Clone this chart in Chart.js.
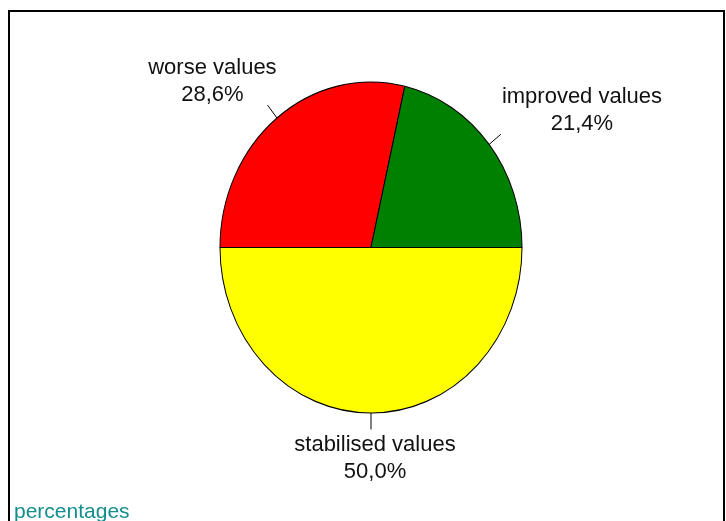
<!DOCTYPE html>
<html>
<head>
<meta charset="utf-8">
<script src="https://cdn.jsdelivr.net/npm/chart.js@4"></script>
<style>
  html, body { margin: 0; padding: 0; background: #fff; }
  #chart { display: block; }
</style>
</head>
<body>
<canvas id="chart" width="726" height="521"></canvas>
<script>
// data, in drawing order clockwise from 3 o'clock
const categories = ["stabilised values", "worse values", "improved values"];
const percentValues = [50.0, 28.6, 21.4];
const percentLabels = ["50,0%", "28,6%", "21,4%"];
const sliceColors = ["#ffff00", "#ff0000", "#008000"];

const FONT = "22px 'Liberation Sans', Arial, sans-serif";
const Y_STRETCH = 165.5 / 151; // reference pie is slightly taller than wide

// frame round the plot + footer text
const framePlugin = {
    id: "frame",
    beforeDraw(chart) {
        const ctx = chart.ctx;
        ctx.save();
        ctx.fillStyle = "#fff";
        ctx.fillRect(0, 0, chart.width, chart.height);
        ctx.strokeStyle = "#000";
        ctx.lineWidth = 2;
        ctx.beginPath();
        ctx.moveTo(9, chart.height + 5);
        ctx.lineTo(9, 11);
        ctx.lineTo(724, 11);
        ctx.lineTo(724, chart.height + 5);
        ctx.stroke();
        ctx.fillStyle = "#138d8d";
        ctx.font = "21px 'Liberation Sans', Arial, sans-serif";
        ctx.textAlign = "left";
        ctx.textBaseline = "alphabetic";
        ctx.fillText("percentages", 14, 518);
        ctx.restore();
    }
};

// stretch the pie vertically around its centre
const stretchPlugin = {
    id: "stretch",
    beforeDatasetsDraw(chart) {
        const arc = chart.getDatasetMeta(0).data[0];
        const ctx = chart.ctx;
        ctx.save();
        ctx.translate(arc.x, arc.y);
        ctx.scale(1, Y_STRETCH);
        ctx.translate(-arc.x, -arc.y);
    },
    afterDatasetsDraw(chart) {
        chart.ctx.restore();
    }
};

// leader ticks and two-line labels
const labelPlugin = {
    id: "sliceLabels",
    afterDraw(chart) {
        const ctx = chart.ctx;
        const meta = chart.getDatasetMeta(0);
        ctx.save();
        ctx.font = FONT;
        ctx.fillStyle = "#111";
        ctx.strokeStyle = "#000";
        ctx.lineWidth = 1;
        meta.data.forEach((arc, i) => {
            const mid = (arc.startAngle + arc.endAngle) / 2;
            const r = arc.outerRadius;
            const c = Math.cos(mid), s = Math.sin(mid);
            const x0 = arc.x + r * c, y0 = arc.y + r * s * Y_STRETCH;
            const x1 = arc.x + (r + 15) * c, y1 = arc.y + ((r + 15) * Y_STRETCH) * s;
            ctx.beginPath();
            ctx.moveTo(x0, y0);
            ctx.lineTo(x1, y1);
            ctx.stroke();

            const lines = [categories[i], percentLabels[i]];
            const w = Math.max(...lines.map(t => ctx.measureText(t).width));
            let cx;
            if (c > 0.2) cx = x1 + w / 2 + 1;
            else if (c < -0.2) cx = x1 - w / 2 + 9;
            else cx = x1 + 4;
            ctx.textAlign = "center";
            ctx.textBaseline = "middle";
            if (s < 0) {
                // above the pie: block sits over the tick end
                ctx.fillText(lines[1], cx, y1 - 10);
                ctx.fillText(lines[0], cx, y1 - 37);
            } else {
                ctx.fillText(lines[0], cx, y1 + 15);
                ctx.fillText(lines[1], cx, y1 + 42);
            }
        });
        ctx.restore();
    }
};

new Chart(document.getElementById("chart").getContext("2d"), {
    type: "pie",
    data: {
        labels: categories,
        datasets: [{
            data: percentValues,
            backgroundColor: sliceColors,
            borderColor: "#000",
            borderWidth: 1
        }]
    },
    options: {
        responsive: false,
        animation: false,
        rotation: 90,
        radius: 151,
        layout: { padding: { left: 220, right: 204, top: 82, bottom: 108 } },
        plugins: {
            legend: { display: false },
            tooltip: { enabled: false }
        }
    },
    plugins: [framePlugin, stretchPlugin, labelPlugin]
});
</script>
</body>
</html>
